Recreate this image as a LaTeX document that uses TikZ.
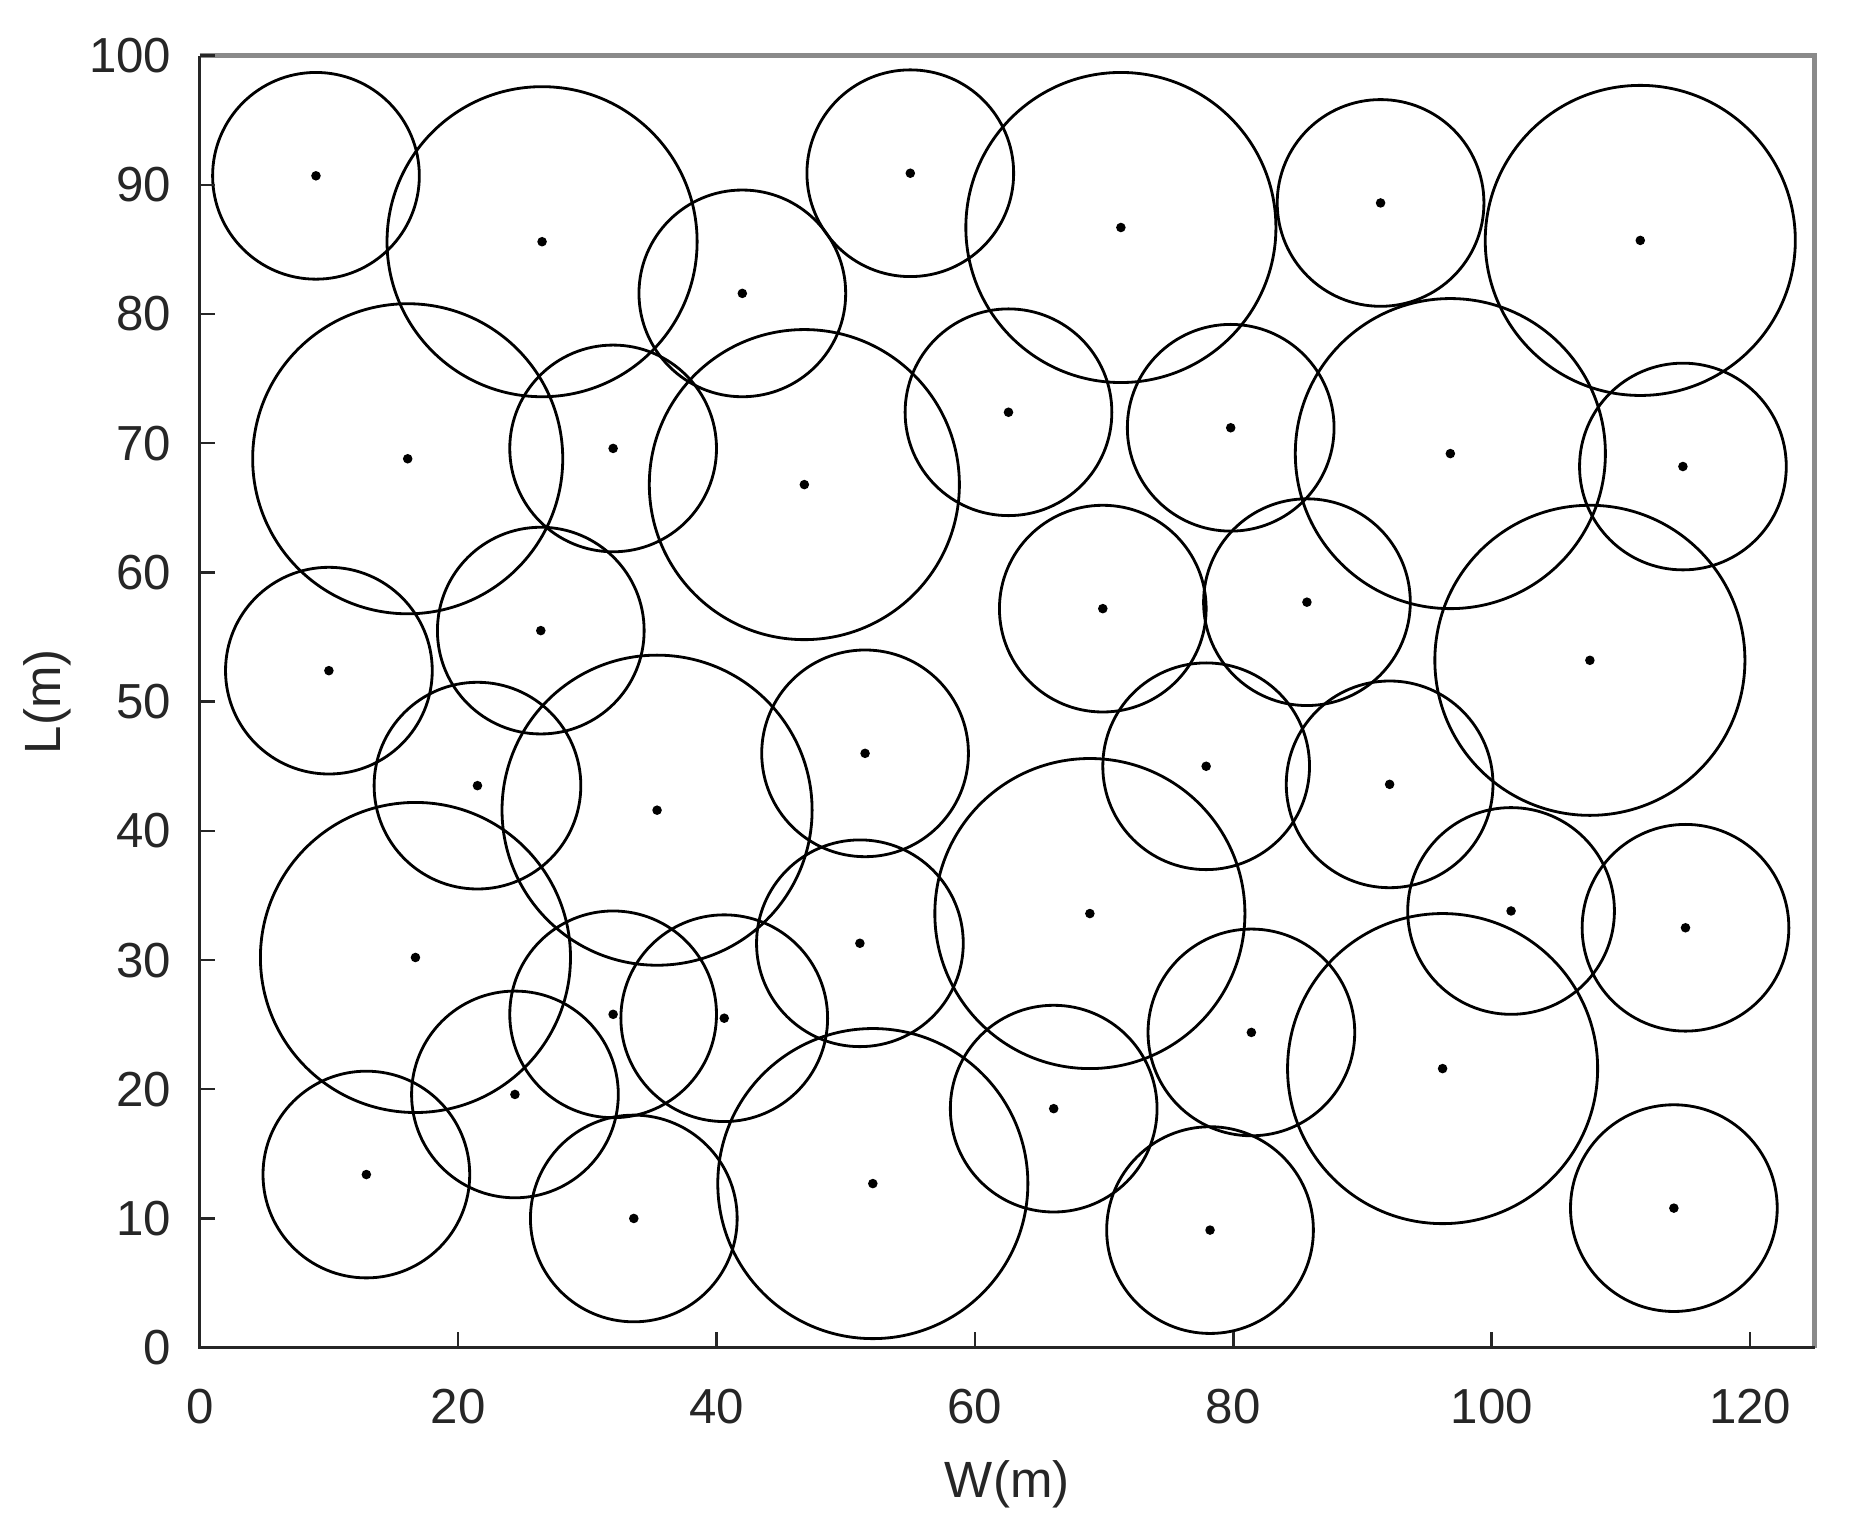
\documentclass[tikz,border=0pt]{standalone}
\usepackage{fontspec}
\setmainfont{Liberation Sans}
\definecolor{txt}{HTML}{262626}
\definecolor{boxgrey}{HTML}{8A8A8A}
\begin{document}
\begin{tikzpicture}[x=0.1292cm,y=0.1292cm,
  ring/.style={draw=black,line width=0.8pt},
  centre/.style={fill=black},
  ticklab/.style={text=txt,font=\fontsize{14}{16}\selectfont,inner sep=0pt},
  axlab/.style={text=txt,font=\fontsize{14.5}{16}\selectfont,inner sep=0pt}]
\useasboundingbox (-15.456,-14.11) rectangle (128.74,104.31);
\fill[white] (-15.456,-14.11) rectangle (128.74,104.31);
% circles: x, y, r
\foreach \cx/\cy/\r in {
 9.0/90.7/8, 26.5/85.6/12, 42.0/81.6/8, 55.0/90.9/8, 71.3/86.7/12, 91.4/88.6/8, 111.5/85.7/12,
 16.1/68.8/12, 32.0/69.6/8, 46.8/66.8/12, 62.6/72.4/8, 79.8/71.2/8, 96.8/69.2/12, 114.8/68.2/8,
 69.9/57.2/8, 85.7/57.7/8, 107.6/53.2/12, 10.0/52.4/8, 26.4/55.5/8,
 21.5/43.5/8, 35.4/41.6/12, 51.5/46.0/8, 77.9/45.0/8, 92.1/43.6/8,
 16.7/30.2/12, 51.1/31.3/8, 68.9/33.6/12, 101.5/33.8/8, 115.0/32.5/8,
 32.0/25.8/8, 40.6/25.5/8, 24.4/19.6/8, 81.4/24.4/8, 96.2/21.6/12, 66.1/18.5/8,
 12.9/13.4/8, 33.6/10.0/8, 52.1/12.7/12, 78.2/9.1/8, 114.1/10.8/8}
{
  \draw[ring] (\cx,\cy) circle[radius=\r];
  \fill[centre] (\cx,\cy) circle[radius=0.37];
}
% axes box
\draw[boxgrey,line width=1.3pt] (0,100) -- (125,100) -- (125,0);
\draw[black!85,line width=0.8pt] (125,0) -- (0,0) -- (0,100);
% ticks
\foreach \t in {0,20,...,120}{
  \draw[black!85,line width=0.7pt] (\t,0) -- (\t,1.25);
  \node[ticklab,anchor=center] at (\t,-4.55) {\t};
}
\foreach \t in {0,10,...,100}{
  \draw[black!85,line width=0.7pt] (0,\t) -- (1.15,\t);
  \node[ticklab,anchor=east] at (-2.14,\t) {\t};
}
\node[axlab,anchor=base] (wlab) at (62.5,-11.56) {W(m)};
\node[axlab,anchor=base,rotate=90] (llab) at (-10.81,50) {L(m)};
\end{tikzpicture}
\end{document}
